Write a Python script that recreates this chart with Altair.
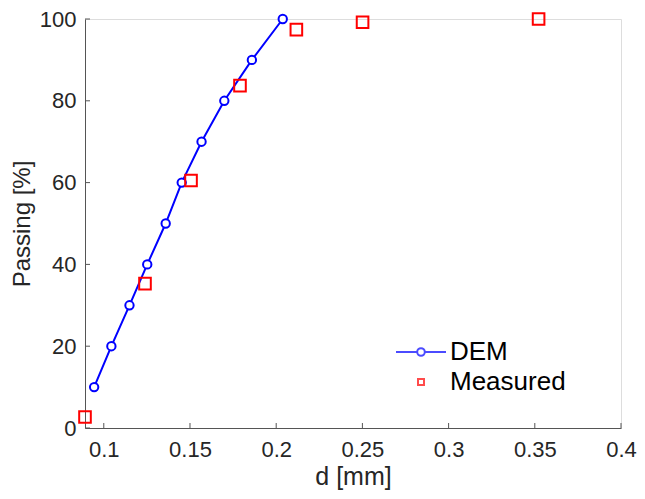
import altair as alt
import pandas as pd

# ---- data ----
dem_d = [0.0944, 0.1044, 0.1149, 0.1252, 0.1359, 0.1452, 0.1567, 0.1699, 0.1859, 0.2038]
dem_p = [10, 20, 30, 40, 50, 60, 70, 80, 90, 100]
meas_d = [0.0891, 0.1239, 0.1506, 0.1790, 0.2117, 0.2501, 0.3522]
meas_p = [2.7, 35.3, 60.5, 83.7, 97.4, 99.2, 100.0]
x_ticks = [0.1, 0.15, 0.2, 0.25, 0.3, 0.35, 0.4]
y_ticks = [0, 20, 40, 60, 80, 100]
series = ["DEM", "Measured"]

dem = pd.DataFrame({"d": dem_d, "p": dem_p, "series": "DEM"})
meas = pd.DataFrame({"d": meas_d, "p": meas_p, "series": "Measured"})
both = pd.concat([dem, meas], ignore_index=True)

FONT = "Liberation Sans, Arial, sans-serif"
W, H = 536, 409
AX = "#555555"
TXT = "#262626"

xscale = alt.Scale(domain=[0.0891, 0.4], nice=False, zero=False)
yscale = alt.Scale(domain=[0, 100], nice=False, zero=False)

xaxis = alt.Axis(values=x_ticks, format="~g", title="d [mm]", ticks=False, grid=False,
                 labelFlush=False, labelOverlap=False, labelPadding=11, titlePadding=4,
                 domainColor=AX, domainWidth=1, labelColor=TXT, titleColor=TXT,
                 labelFontSize=22, titleFontSize=25, labelFont=FONT, titleFont=FONT,
                 titleFontWeight="normal")
yaxis = alt.Axis(values=y_ticks, title="Passing [%]", ticks=False, grid=False,
                 labelOverlap=False, labelPadding=9, titlePadding=5,
                 domainColor=AX, domainWidth=1, labelColor=TXT, titleColor=TXT,
                 labelFontSize=22, titleFontSize=24, labelFont=FONT, titleFont=FONT,
                 titleFontWeight="normal")

line = alt.Chart(dem).mark_line(color="#0000ff", strokeWidth=2).encode(
    x=alt.X("d:Q", scale=xscale, axis=xaxis),
    y=alt.Y("p:Q", scale=yscale, axis=yaxis),
)

dem_pts = alt.Chart(dem).mark_point(shape="circle", size=70, filled=True, fill="white",
                                     stroke="#0000ff", strokeWidth=2, opacity=1).encode(
    x="d:Q", y="p:Q")

meas_pts = alt.Chart(meas).mark_point(shape="square", size=135, filled=False,
                                      stroke="#ff0000", strokeWidth=2, opacity=1).encode(
    x="d:Q", y="p:Q")

xt = alt.Chart(pd.DataFrame({"d": x_ticks})).mark_rule(color=AX, strokeWidth=1).encode(
    x="d:Q", y=alt.value(H), y2=alt.value(H - 5))
yt = alt.Chart(pd.DataFrame({"p": y_ticks})).mark_rule(color=AX, strokeWidth=1).encode(
    y="p:Q", x=alt.value(0), x2=alt.value(5))

dem_path = "M-2.5,0L-0.38,0M0.38,0L2.5,0M-0.38,0A0.38,0.38,0,1,0,0.38,0A0.38,0.38,0,1,0,-0.38,0Z"
meas_path = "M-0.3,-0.3L0.3,-0.3L0.3,0.3L-0.3,0.3Z"

leg = dict(title=None, orient="none", legendX=323, legendY=320, symbolSize=400,
           symbolStrokeWidth=2, labelFontSize=26, labelFont=FONT, labelColor="black",
           labelOffset=16, rowPadding=4, padding=0, symbolFillColor="transparent")

legend_layer = alt.Chart(both).mark_point(filled=False, strokeWidth=2).encode(
    x="d:Q", y="p:Q",
    color=alt.Color("series:N", scale=alt.Scale(domain=series, range=["#0000ff", "#ff0000"]),
                    legend=alt.Legend(**leg)),
    shape=alt.Shape("series:N", scale=alt.Scale(domain=series, range=[dem_path, meas_path]),
                    legend=alt.Legend(**leg)),
).transform_filter("false")

chart = alt.layer(xt, yt, line, dem_pts, meas_pts, legend_layer).properties(
    width=W, height=H,
    autosize=alt.AutoSizeParams(type="none"),
    padding={"left": 77, "top": 11, "right": 16, "bottom": 63},
).configure_view(stroke=None).configure(background="white")

chart.save("out.html", embed_options={"renderer": "svg", "actions": False})
